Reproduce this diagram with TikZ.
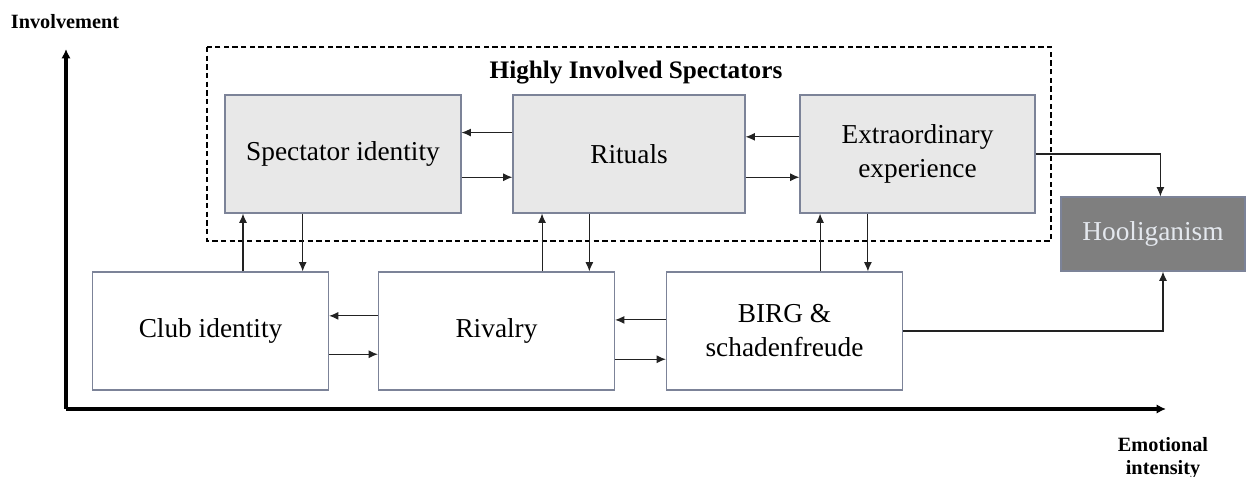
\documentclass[tikz,border=0pt]{standalone}
\usepackage{fontspec}
\setmainfont{Liberation Serif}
\usetikzlibrary{arrows.meta,calc}
\definecolor{boxline}{HTML}{7C8398}
\definecolor{boxfill}{HTML}{E8E8E8}
\definecolor{hoolfill}{HTML}{7F7F7F}
\definecolor{hooltext}{HTML}{E4E8EE}
\definecolor{arrcol}{HTML}{222222}
\tikzset{
  stdbox/.style={draw=boxline, line width=0.9pt, rectangle, align=center,
    font=\fontsize{20.5}{25.5}\selectfont, minimum width={236*0.75pt}, minimum height={118*0.75pt}, inner sep=0pt},
  grey/.style={stdbox, fill=boxfill},
  white/.style={stdbox, fill=white},
  arr/.style={draw=arrcol, line width=0.8pt, -{Latex[length=7pt,width=6pt]}},
  axis/.style={draw=black, line width=3pt, -{Latex[length=7pt,width=7pt]}},
  axlabel/.style={font=\bfseries\fontsize{15.2}{17.5}\selectfont, align=center},
}
\begin{document}
\begin{tikzpicture}[x=0.75pt,y=-0.75pt]
\useasboundingbox (0,0) rectangle (1247,477);
% axes
\coordinate (origin) at (66,409);
\coordinate (ytop) at (66,49);
\coordinate (xend) at (1166,409);
\draw[axis] (origin) -- (ytop);
\draw[axis] (origin) -- (xend);
\node[axlabel] (ylab) at (65,22) {Involvement};
\node[axlabel] (xlab) at (1163,458) {Emotional\\intensity};
% dashed group
\draw[dash pattern=on 4pt off 2.5pt, line width=0.8pt] (207,47) rectangle (1051,241);
\node[font=\bfseries\fontsize{18.9}{22}\selectfont] (title) at (636,73) {Highly Involved Spectators};
% boxes
\node[grey] (si) at (343,154) {Spectator identity};
\node[grey, minimum width={232*0.75pt}] (rit) at (629,154) {Rituals};
\node[grey, minimum width={235*0.75pt}] (ext) at (917.5,154) {Extraordinary\\experience};
\node[stdbox, fill=hoolfill, text=hooltext, minimum width={184*0.75pt}, minimum height={74*0.75pt}] (hool) at (1153,234) {Hooliganism};
\node[white] (club) at (210.5,331) {Club identity};
\node[white] (riv) at (496.5,331) {Rivalry};
\node[white] (birg) at (784.5,331) {BIRG \&\\schadenfreude};
% horizontal arrows, top row
\draw[arr] ($(rit.north west)!0.32!(rit.south west)$) coordinate (a1) -- (a1 -| si.east);
\draw[arr] ($(si.north east)!0.695!(si.south east)$) coordinate (a2) -- (a2 -| rit.west);
\draw[arr] ($(ext.north west)!0.356!(ext.south west)$) coordinate (a3) -- (a3 -| rit.east);
\draw[arr] ($(rit.north east)!0.695!(rit.south east)$) coordinate (a4) -- (a4 -| ext.west);
% horizontal arrows, bottom row
\draw[arr] ($(riv.north west)!0.373!(riv.south west)$) coordinate (b1) -- (b1 -| club.east);
\draw[arr] ($(club.north east)!0.695!(club.south east)$) coordinate (b2) -- (b2 -| riv.west);
\draw[arr] ($(birg.north west)!0.407!(birg.south west)$) coordinate (b3) -- (b3 -| riv.east);
\draw[arr] ($(riv.north east)!0.737!(riv.south east)$) coordinate (b4) -- (b4 -| birg.west);
% vertical arrows
\draw[arr] ($(club.north west)!0.637!(club.north east)$) coordinate (c1) -- (c1 |- si.south);
\draw[arr] ($(si.south west)!0.33!(si.south east)$) coordinate (c2) -- (c2 |- club.north);
\draw[arr] ($(riv.north west)!0.692!(riv.north east)$) coordinate (c3) -- (c3 |- rit.south);
\draw[arr] ($(rit.south west)!0.33!(rit.south east)$) coordinate (c4) -- (c4 |- riv.north);
\draw[arr] ($(birg.north west)!0.65!(birg.north east)$) coordinate (c5) -- (c5 |- ext.south);
\draw[arr] ($(ext.south west)!0.29!(ext.south east)$) coordinate (c6) -- (c6 |- birg.north);
% to hooliganism
\draw[arr] (ext.east) -| ($(hool.north west)!0.54!(hool.north east)$);
\draw[arr] (birg.east) -| ($(hool.south west)!0.554!(hool.south east)$);
\end{tikzpicture}
\end{document}
